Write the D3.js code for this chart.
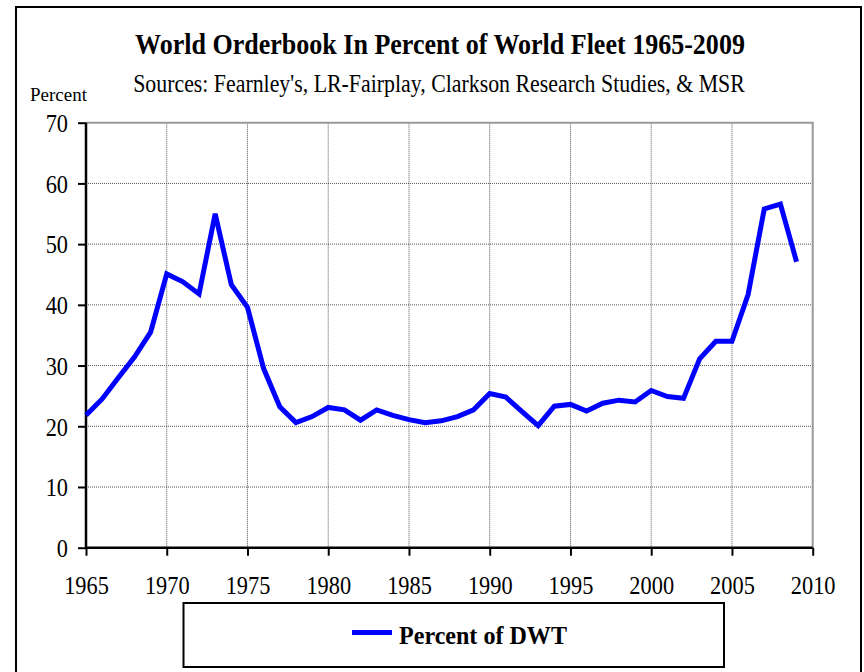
<!DOCTYPE html>
<html>
<head>
<meta charset="utf-8">
<script src="https://cdn.jsdelivr.net/npm/d3@7"></script>
<style>
  html, body { margin: 0; padding: 0; background: #fff; }
  svg { display: block; }
  text { font-family: "Liberation Serif", "Times New Roman", serif; fill: #000; }
</style>
</head>
<body>
<svg id="chart" width="864" height="672"></svg>
<script>
// Orderbook as a share of the world fleet, percent of DWT
const years = [1965, 1966, 1967, 1968, 1969, 1970, 1971, 1972, 1973, 1974,
  1975, 1976, 1977, 1978, 1979, 1980, 1981, 1982, 1983, 1984,
  1985, 1986, 1987, 1988, 1989, 1990, 1991, 1992, 1993, 1994,
  1995, 1996, 1997, 1998, 1999, 2000, 2001, 2002, 2003, 2004,
  2005, 2006, 2007, 2008, 2009];
const percentOfDwt = [21.8, 24.5, 28.0, 31.4, 35.5, 45.1, 43.8, 41.8, 55.0, 43.3,
  39.6, 29.5, 23.2, 20.6, 21.6, 23.1, 22.7, 21.0, 22.7, 21.8,
  21.1, 20.6, 20.9, 21.6, 22.7, 25.4, 24.8, 22.4, 20.1, 23.3,
  23.6, 22.5, 23.8, 24.3, 24.0, 25.9, 24.9, 24.6, 31.1, 34.0,
  34.0, 41.7, 55.8, 56.6, 47.1];
const xTicks = [1965, 1970, 1975, 1980, 1985, 1990, 1995, 2000, 2005, 2010];
const yTicks = [0, 10, 20, 30, 40, 50, 60, 70];

const titleText = "World Orderbook In Percent of World Fleet 1965-2009";
const subtitleText = "Sources: Fearnley's, LR-Fairplay, Clarkson Research Studies, & MSR";
const yLabelText = "Percent";
const seriesName = "Percent of DWT";

const svg = d3.select("#chart");
const squeeze = 0.86; // narrow serif lettering

const plot = { left: 86, right: 812.7, top: 122.7, bottom: 547.7 };

const x = d3.scaleLinear().domain([1965, 2010]).range([plot.left, plot.right]);
const y = d3.scaleLinear().domain([0, 70]).range([plot.bottom, plot.top]);

// Place a text and squeeze it horizontally to a given width.
// anchor: "start" keeps the left edge at x, "middle" centres on x.
function fittedText(parent, str, x0, y0, size, weight, width, anchor) {
  const g = parent.append("g");
  const t = g.append("text")
    .attr("font-size", size)
    .attr("font-weight", weight)
    .attr("text-anchor", anchor)
    .text(str);
  const natural = t.node().getComputedTextLength();
  const k = width / natural;
  g.attr("transform", `translate(${x0},${y0}) scale(${k},1)`);
  return g;
}

// page background and outer frame
svg.append("rect").attr("width", 864).attr("height", 672).attr("fill", "#fff");
svg.append("rect")
  .attr("x", 16).attr("y", 7).attr("width", 845).attr("height", 690)
  .attr("fill", "none").attr("stroke", "#000").attr("stroke-width", 2);

// titles
fittedText(svg, titleText, 440, 53.5, 29, "bold", 610, "middle");
fittedText(svg, subtitleText, 439, 91.5, 25, "normal", 612, "middle");
fittedText(svg, yLabelText, 30, 100.5, 19, "normal", 57, "start");

// grid
const grid = svg.append("g").attr("class", "grid");
grid.selectAll("line.h")
  .data(yTicks.filter(d => d > 0 && d < 70))
  .join("line")
  .attr("class", "h")
  .attr("x1", plot.left).attr("x2", plot.right)
  .attr("y1", d => y(d)).attr("y2", d => y(d))
  .attr("stroke", "#555").attr("stroke-width", 1)
  .attr("stroke-dasharray", "1,1");
grid.selectAll("line.v")
  .data(xTicks.filter(d => d > 1965 && d < 2010))
  .join("line")
  .attr("class", "v")
  .attr("x1", d => x(d)).attr("x2", d => x(d))
  .attr("y1", plot.top).attr("y2", plot.bottom)
  .attr("stroke", "#555").attr("stroke-width", 1)
  .attr("stroke-dasharray", "1,1");

// plot frame top and right (grey)
svg.append("path")
  .attr("d", `M${plot.left},${plot.top}H${plot.right}V${plot.bottom}`)
  .attr("fill", "none").attr("stroke", "#999").attr("stroke-width", 2);

// axes
const yAxis = svg.append("g")
  .attr("transform", `translate(${plot.left},0)`)
  .call(d3.axisLeft(y).tickValues(yTicks).tickSize(8).tickPadding(10).tickFormat(d3.format("d")));
const xAxis = svg.append("g")
  .attr("transform", `translate(0,${plot.bottom})`)
  .call(d3.axisBottom(x).tickValues(xTicks).tickSize(8).tickPadding(20).tickFormat(d3.format("d")));

[yAxis, xAxis].forEach(ax => {
  ax.attr("font-family", "Liberation Serif, serif").attr("font-size", 26);
  ax.select(".domain").attr("stroke", "#000").attr("stroke-width", 2.5);
  ax.selectAll(".tick line").attr("stroke", "#000").attr("stroke-width", 2);
  ax.selectAll(".tick text").attr("fill", "#000");
});
yAxis.select(".domain").attr("d", `M0,${plot.top}V${plot.bottom}`);
xAxis.select(".domain").attr("d", `M${plot.left},0H${plot.right}`);
yAxis.selectAll(".tick text")
  .attr("dy", "0.34em")
  .attr("transform", function () {
    const xx = +d3.select(this).attr("x");
    return `translate(${xx * (1 - squeeze)},0) scale(${squeeze},1)`;
  });
xAxis.selectAll(".tick text")
  .attr("dy", "0.72em")
  .attr("transform", `scale(${squeeze},1)`);

// series line
const line = d3.line()
  .x((d, i) => x(years[i]))
  .y(d => y(d));
svg.append("path")
  .datum(percentOfDwt)
  .attr("d", line)
  .attr("fill", "none")
  .attr("stroke", "#0000ff")
  .attr("stroke-width", 5)
  .attr("stroke-linejoin", "miter");

// legend
const legend = svg.append("g");
legend.append("rect")
  .attr("x", 183.5).attr("y", 603).attr("width", 540.5).attr("height", 64)
  .attr("fill", "#fff").attr("stroke", "#000").attr("stroke-width", 2);
legend.append("line")
  .attr("x1", 352).attr("x2", 392).attr("y1", 632.5).attr("y2", 632.5)
  .attr("stroke", "#0000ff").attr("stroke-width", 5);
fittedText(legend, seriesName, 399, 643.5, 26, "bold", 168, "start");
</script>
</body>
</html>
